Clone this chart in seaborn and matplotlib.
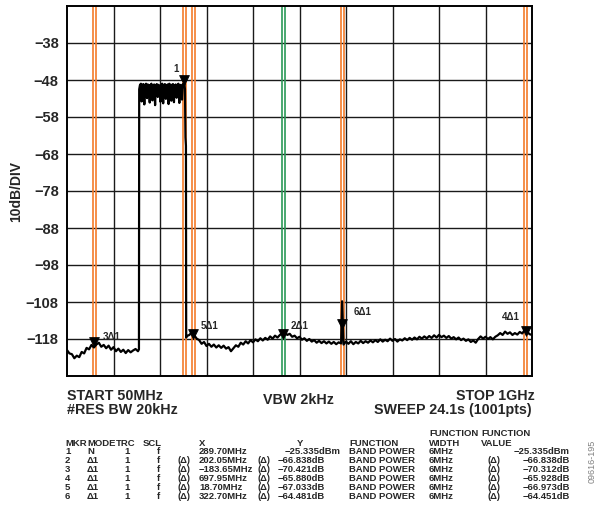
# Spectrum analyser plot: band power markers around a DOCSIS-like channel block
import matplotlib
matplotlib.use('Agg')
import matplotlib.pyplot as plt
import seaborn as sns
import pandas as pd

floor_lo_mhz = [50, 55, 60, 65, 70, 75, 80, 85, 90, 95, 100, 105, 110, 115, 120, 125, 130, 135,
                140, 145, 150, 155, 160, 165, 170, 175, 180, 185, 190, 195, 197]
floor_lo_dbm = [-121.0, -121.9, -122.1, -123.2, -122.5, -122.9, -121.5, -121.9, -120.4, -120.8,
                -119.6, -120.3, -119.5, -119.0, -120.1, -119.6, -120.5, -119.8, -120.9, -120.2,
                -121.3, -120.6, -121.5, -120.9, -121.8, -121.0, -121.6, -121.1, -120.7, -121.3,
                -120.8]

channel_mhz = [197.5, 199, 201, 202.5, 204, 206, 208, 209.5, 211.5, 213.5, 215, 217, 219, 220.5,
               222.5, 224.5, 226, 228, 230, 231.5, 233.5, 235.5, 237, 239, 241, 242.5, 244.5,
               246.5, 248, 250, 252, 253.5, 255.5, 257.5, 259, 261, 263, 264.5, 266.5, 268.5,
               270, 272, 274, 275.5, 277.5, 279.5, 281, 283, 285, 286.5, 288.5, 289.7, 291,
               292, 293, 293.5]
channel_dbm = [-50.5, -49.4, -49.0, -53.8, -49.3, -49.1, -54.6, -49.6, -49.0, -52.9, -49.2, -49.4,
               -54.1, -49.3, -49.0, -53.5, -49.5, -49.2, -54.8, -49.4, -49.1, -52.6, -49.3, -49.6,
               -53.9, -49.2, -49.0, -54.3, -49.4, -49.1, -53.1, -49.5, -49.2, -54.5, -49.0, -49.4,
               -53.6, -49.3, -49.1, -54.0, -49.6, -49.2, -52.8, -49.4, -49.0, -54.2, -49.3, -49.5,
               -53.3, -49.1, -49.7, -48.9, -50.5, -63.5, -65.8, -117.6]

floor_hi_mhz = [295, 300, 305, 310, 315, 320, 325, 330, 335, 340, 345, 350, 355, 360, 365, 370,
                375, 380, 385, 390, 395, 400, 405, 410, 415, 420, 425, 430, 435, 440, 445, 450,
                455, 460, 465, 470, 475, 480, 485, 490, 495, 500, 505, 510, 515, 520, 525, 530,
                535, 540, 545, 550, 555, 560, 565, 570, 575, 580, 585, 590, 595, 600, 605, 610,
                612, 615, 620, 625, 630, 635, 640, 645, 650, 655, 660, 665, 670, 675, 680, 685,
                690, 695, 700, 705, 710, 715, 720, 725, 730, 735, 740, 745, 750, 755, 760, 765,
                770, 775, 780, 785, 790, 795, 800, 805, 810, 815, 820, 825, 830, 835, 840, 845,
                850, 855, 860, 865, 870, 875, 880, 885, 890, 895, 900, 905, 910, 915, 920, 925,
                930, 935, 940, 945, 950, 955, 960, 965, 970, 975, 980, 985, 990, 995, 1000]
floor_hi_dbm = [-117.2, -116.9, -116.2, -117.0, -117.9, -118.3, -119.3, -118.8, -119.9, -119.3,
                -120.1, -119.5, -120.3, -119.7, -120.4, -119.8, -120.6, -120.2, -121.3, -120.5,
                -119.7, -120.1, -119.0, -119.5, -118.6, -119.2, -118.3, -118.9, -118.1, -118.6,
                -117.8, -118.4, -117.7, -118.2, -117.3, -117.9, -117.1, -117.6, -116.9, -116.4,
                -116.2, -116.9, -116.6, -117.4, -117.1, -117.8, -117.4, -118.2, -117.8, -118.5,
                -118.0, -118.7, -118.3, -119.0, -118.5, -119.1, -118.6, -119.2, -118.7, -119.3,
                -118.8, -119.4, -118.9, -119.2, -107.8, -119.5, -118.7, -119.3, -118.6, -119.4,
                -118.8, -119.2, -118.5, -119.1, -118.6, -119.0, -118.4, -118.9, -118.3, -118.8,
                -118.1, -118.7, -118.2, -118.6, -117.9, -118.5, -118.0, -118.7, -118.1, -118.4,
                -117.8, -118.3, -117.7, -118.2, -117.6, -118.1, -117.4, -117.9, -117.3, -117.8,
                -117.2, -117.7, -117.0, -117.6, -116.9, -117.5, -117.1, -117.7, -117.2, -117.9,
                -117.5, -118.1, -117.6, -118.3, -117.9, -118.5, -118.1, -118.8, -118.4, -119.0,
                -118.0, -117.3, -117.9, -117.4, -118.0, -117.5, -118.1, -117.4, -117.0, -116.4,
                -116.9, -116.0, -116.6, -116.2, -116.9, -116.4, -116.8, -116.1, -116.5, -115.6,
                -116.0, -116.7, -116.9]

# Markers: frequency, marker symbol level, label and label position
mkr_mhz = [289.7, 491.75, 106.05, 987.65, 308.4, 612.4]
mkr_dbm = [-48.0, -116.6, -118.9, -115.8, -116.6, -113.9]
mkr_text = ['1', '2Δ1', '3Δ1', '4Δ1', '5Δ1', '6Δ1']
mkr_text_mhz = [272.7, 526.0, 140.9, 957.0, 342.2, 653.7]
mkr_text_dbm = [-45.0, -114.5, -117.4, -112.1, -114.5, -110.6]
band_half_mhz = 3.0
band_colors = ['#F47B2A', '#2A9A58', '#F47B2A', '#F47B2A', '#F47B2A', '#F47B2A']

y_ticks = [-118, -108, -98, -88, -78, -68, -58, -48, -38]
x_grid = [145, 240, 335, 430, 525, 620, 715, 810, 905]

# Marker table
tbl_mkr = ['1', '2', '3', '4', '5', '6']
tbl_mode = ['N', 'Δ1', 'Δ1', 'Δ1', 'Δ1', 'Δ1']
tbl_x = ['289.70MHz', '202.05MHz', '−183.65MHz', '697.95MHz', '18.70MHz', '322.70MHz']
tbl_y = ['−25.335dBm', '−66.838dB', '−70.421dB', '−65.880dB', '−67.033dB', '−64.481dB']
tbl_value = ['−25.335dBm', '−66.838dB', '−70.312dB', '−65.928dB', '−66.973dB', '−64.451dB']

trace = pd.DataFrame({'mhz': floor_lo_mhz + channel_mhz + floor_hi_mhz,
                      'dbm': floor_lo_dbm + channel_dbm + floor_hi_dbm})
markers = pd.DataFrame({'mhz': mkr_mhz, 'dbm': mkr_dbm})

sns.set_theme(style='white')
plt.rcParams['font.family'] = ['Liberation Sans', 'DejaVu Sans']
plt.rcParams['font.weight'] = 'bold'

W, H = 599, 521
fig = plt.figure(figsize=(W / 100, H / 100), dpi=100)
ax = fig.add_axes([67 / W, 1 - 376 / H, 465 / W, 370 / H])

# band power limits (pairs of lines)
for f, c in zip(mkr_mhz, band_colors):
    ax.axvline(f - band_half_mhz, color=c, lw=1.2, zorder=1)
    ax.axvline(f + band_half_mhz, color=c, lw=1.2, zorder=1)

sns.lineplot(data=trace, x='mhz', y='dbm', estimator=None, sort=False, color='black',
             lw=1.6, ax=ax, zorder=3)
sns.scatterplot(data=markers, x='mhz', y='dbm', marker='v', s=50, color='black',
                edgecolor='black', ax=ax, zorder=4)
for t, fx, fy in zip(mkr_text, mkr_text_mhz, mkr_text_dbm):
    ax.text(fx, fy, t, fontsize=7, fontweight='bold', ha='center', va='center', zorder=5)

ax.set_xlim(50, 1000)
ax.set_ylim(-128, -28)
ax.set_xticks(x_grid)
ax.set_xticklabels([])
ax.set_yticks(y_ticks)
ax.set_yticklabels([f'\u2212{abs(v)}' for v in y_ticks], fontsize=10.5, fontweight='bold')
ax.tick_params(length=0, pad=6)
ax.grid(True, color='#1a1a1a', lw=1.0, zorder=0)
ax.set_axisbelow(True)
for s in ax.spines.values():
    s.set_color('black')
    s.set_linewidth(1.4)
ax.set_xlabel('')
ax.set_ylabel('10dB/DIV', fontsize=10, fontweight='bold', labelpad=2)


def put(px, py, s, size=6.8, ha='left', **kw):
    fig.text(px / W, 1 - py / H, s, fontsize=size, fontweight='bold', ha=ha, va='baseline', **kw)


# settings below the screen
put(67, 400.5, 'START 50MHz', 10.3)
put(67, 414, '#RES BW 20kHz', 10.3)
put(298, 403.5, 'VBW 2kHz', 10.3, ha='center')
put(535, 400, 'STOP 1GHz', 10.3, ha='right')
put(532, 414, 'SWEEP 24.1s (1001pts)', 10.3, ha='right')

# marker table
head_y = 445.7
put(65, head_y, 'MKR')
put(87, head_y, 'MODE')
put(116, head_y, 'TRC')
put(143, head_y, 'SCL')
put(199, head_y, 'X')
put(297, head_y, 'Y')
put(349, head_y, 'FUNCTION')
put(429, 436, 'FUNCTION')
put(429, head_y, 'WIDTH')
put(481, 436, 'FUNCTION')
put(481, head_y, 'VALUE')
for i in range(6):
    y = 454 + 9 * i
    put(65, y, tbl_mkr[i])
    put(87, y, tbl_mode[i])
    put(124, y, '1')
    put(157, y, 'f')
    if i > 0:
        put(177, y, '(Δ)')
        put(258, y, '(Δ)')
        put(278, y, tbl_y[i])
        put(488, y, '(Δ)')
    else:
        put(285, y, tbl_y[i])
    put(199, y, tbl_x[i])
    put(349, y, 'BAND POWER')
    put(429, y, '6MHz')
    put(570, y, tbl_value[i], ha='right')

fig.text(592 / W, 1 - 461 / H, '09616-195', fontsize=6.5, color='#808080', rotation=90,
         ha='center', va='center', fontweight='normal')

fig.savefig('out.png', dpi=100)
